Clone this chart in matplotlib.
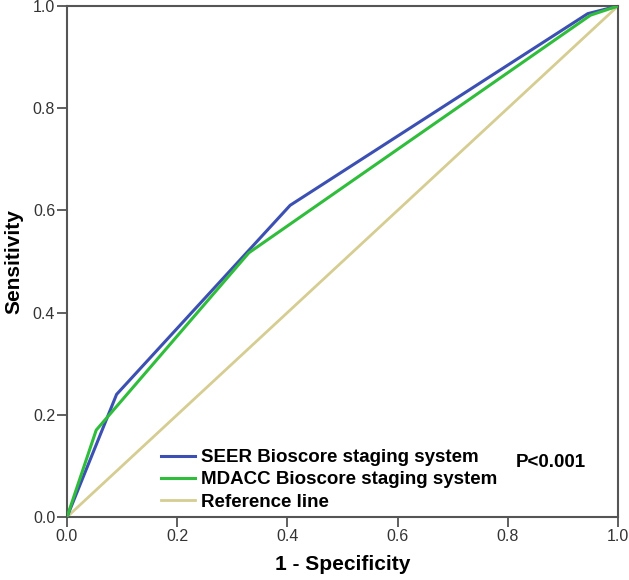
import matplotlib
matplotlib.use("Agg")
import matplotlib.pyplot as plt

# ROC curve points
seer_fpr = [0.0, 0.09, 0.405, 0.945, 1.0]
seer_tpr = [0.0, 0.24, 0.61, 0.985, 1.0]
mdacc_fpr = [0.0, 0.053, 0.33, 0.95, 1.0]
mdacc_tpr = [0.0, 0.17, 0.517, 0.982, 1.0]
ref_x = [0.0, 1.0]
ref_y = [0.0, 1.0]

labels = ['SEER Bioscore staging system', 'MDACC Bioscore staging system', 'Reference line']
ticks = [0.0, 0.2, 0.4, 0.6, 0.8, 1.0]

plt.rcParams['font.family'] = ['Liberation Sans', 'DejaVu Sans']

fig = plt.figure(figsize=(6.29, 5.8), dpi=100)
ax = fig.add_axes([67 / 629, 63 / 580, 551 / 629, 511 / 580])

ax.plot(ref_x, ref_y, color='#d6cd92', linewidth=2.0, label=labels[2], zorder=2)
ax.plot(seer_fpr, seer_tpr, color='#3b50b2', linewidth=2.2, label=labels[0], zorder=3)
ax.plot(mdacc_fpr, mdacc_tpr, color='#2fbd3b', linewidth=2.2, label=labels[1], zorder=4)

ax.set_xlim(0, 1)
ax.set_ylim(0, 1)
ax.set_xticks(ticks)
ax.set_yticks(ticks)
ax.set_xticklabels([f'{t:.1f}' for t in ticks])
ax.set_yticklabels([f'{t:.1f}' for t in ticks])
ax.tick_params(direction='out', length=7, width=1.2, colors='#444444',
               labelsize=11.5, labelcolor='#333333', pad=1.5)
for s in ax.spines.values():
    s.set_color('#555555')
    s.set_linewidth(1.5)

ax.set_xlabel('1 - Specificity', fontsize=15, fontweight='bold', labelpad=8)
ax.set_ylabel('Sensitivity', fontsize=15, fontweight='bold', labelpad=7)

handles, lbls = ax.get_legend_handles_labels()
order = [lbls.index(l) for l in labels]
ax.legend([handles[i] for i in order], [lbls[i] for i in order],
          loc='lower left', bbox_to_anchor=(0.171, 0.012), frameon=False,
          prop={'weight': 'bold', 'size': 13.5}, handlelength=1.8,
          handletextpad=0.32, labelspacing=0.28, borderpad=0.0,
          borderaxespad=0.0)

ax.text(0.815, 0.106, 'P<0.001', transform=ax.transAxes, fontsize=13.5,
        fontweight='bold', ha='left', va='center')

fig.savefig('out.png', dpi=100)
